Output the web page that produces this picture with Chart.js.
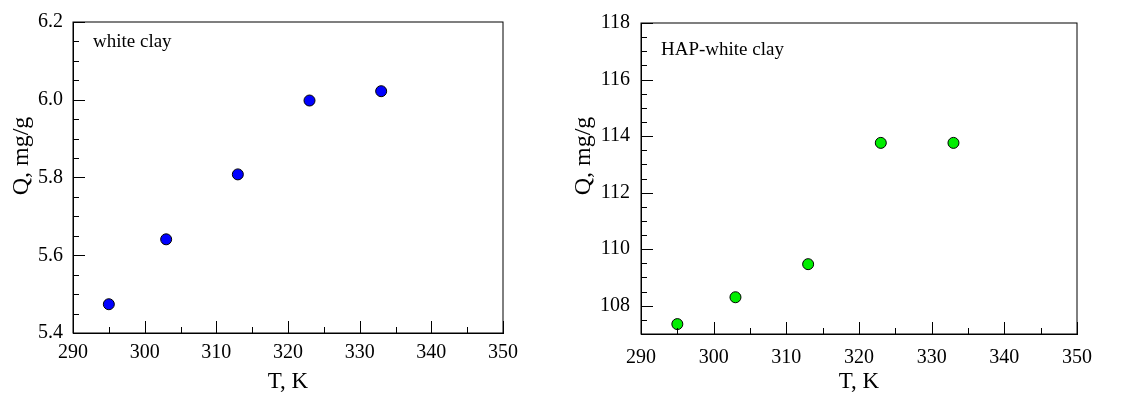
<!DOCTYPE html>
<html>
<head>
<meta charset="utf-8">
<script src="https://cdn.jsdelivr.net/npm/chart.js@4/dist/chart.umd.min.js"></script>
<style>
  body { margin: 0; background: #fff; }
  .box { position: absolute; top: 0; height: 393px; }
</style>
</head>
<body>
<div class="box" style="left:0;width:570px"><canvas id="leftChart"></canvas></div>
<div class="box" style="left:570px;width:574px"><canvas id="rightChart"></canvas></div>
<script>
// temperatures, K
var temps = [295, 303, 313, 323, 333];
// adsorbed amount Q, mg/g
var whiteClayQ = [5.474, 5.641, 5.808, 5.998, 6.022];
var hapWhiteClayQ = [107.35, 108.3, 109.47, 113.76, 113.76];

var serif = "'Liberation Serif', 'Times New Roman', serif";

// inward ticks, closed frame, panel label and y title like the original plot
var frameTicks = {
  id: "frameTicks",
  afterDraw: function (chart, args, opts) {
    var ctx = chart.ctx;
    var a = chart.chartArea;
    var xs = chart.scales.x;
    var ys = chart.scales.y;
    ctx.save();
    ctx.strokeStyle = "#000";
    ctx.lineWidth = 1;
    ctx.strokeRect(a.left, a.top, a.right - a.left, a.bottom - a.top);
    xs.ticks.forEach(function (t) {
      var px = Math.round(xs.getPixelForValue(t.value)) + 0.5;
      var len = Math.round(t.value) % 10 === 0 ? 12 : 6;
      ctx.beginPath();
      ctx.moveTo(px, a.bottom);
      ctx.lineTo(px, a.bottom - len);
      ctx.stroke();
    });
    ys.ticks.forEach(function (t) {
      var py = Math.round(ys.getPixelForValue(t.value)) + 0.5;
      var len = opts.isMajorY(t.value) ? 12 : 6;
      ctx.beginPath();
      ctx.moveTo(a.left, py);
      ctx.lineTo(a.left + len, py);
      ctx.stroke();
    });
    ctx.fillStyle = "#000";
    ctx.textBaseline = "middle";
    ctx.font = "19px " + serif;
    ctx.fillText(opts.label, a.left + opts.labelDx, a.top + opts.labelDy);
    // y axis title
    ctx.translate(opts.yTitleX, opts.yTitleY);
    ctx.rotate(-Math.PI / 2);
    ctx.textAlign = "center";
    ctx.font = "24px " + serif;
    ctx.fillText("Q, mg/g", 0, 0);
    ctx.restore();
  }
};

function makeChart(id, data, color, yMin, yMax, yStep, isMajorY, pad, yWidth, yLabels, xPadding, yPadding, label, labelDx, labelDy, yTitleX, yTitleY) {
  var ctx = document.getElementById(id).getContext("2d");
  return new Chart(ctx, {
    type: "scatter",
    data: {
      datasets: [
        {
          data: temps.map(function (t, i) { return { x: t, y: data[i] }; }),
          backgroundColor: color,
          borderColor: "#000",
          borderWidth: 1,
          pointRadius: 5.5,
          pointHoverRadius: 5.5,
        },
      ],
    },
    options: {
      responsive: true,
      maintainAspectRatio: false,
      animation: false,
      events: [],
      layout: { padding: { top: pad.top, right: pad.right, bottom: 0, left: 0 } },
      plugins: {
        legend: { display: false },
        tooltip: { enabled: false },
        frameTicks: {
          isMajorY: isMajorY,
          label: label,
          labelDx: labelDx,
          labelDy: labelDy,
          yTitleX: yTitleX,
          yTitleY: yTitleY,
        },
      },
      scales: {
        x: {
          type: "linear",
          min: 290,
          max: 350,
          grid: { display: false },
          border: { display: true, color: "#000", width: 1 },
          ticks: {
            stepSize: 5,
            autoSkip: false,
            maxRotation: 0,
            padding: xPadding,
            color: "#000",
            font: { family: serif, size: 20 },
            callback: function (v) {
              return Math.round(v) % 10 === 0 ? String(v) : "";
            },
          },
          title: {
            display: true,
            text: "T, K",
            color: "#000",
            font: { family: serif, size: 23, lineHeight: 1 },
            padding: { top: 0, bottom: 0 },
          },
          afterFit: function (s) { s.height = 393 - pad.top - pad.plotH; },
        },
        y: {
          type: "linear",
          min: yMin,
          max: yMax,
          grid: { display: false, drawTicks: false },
          border: { display: true, color: "#000", width: 1 },
          ticks: {
            stepSize: yStep,
            autoSkip: false,
            padding: yPadding,
            color: "#000",
            font: { family: serif, size: 20 },
            callback: function (v) {
              return isMajorY(v) ? yLabels(v) : "";
            },
          },
          afterFit: function (s) { s.width = yWidth; },
        },
      },
    },
    plugins: [frameTicks],
  });
}

var leftPad = { top: 21, right: 67, plotH: 312 };
var rightPad = { top: 15, right: 67, plotH: 319 };

makeChart("leftChart", whiteClayQ, "#0000ff", 5.4, 6.2, 0.05,
  function (v) { return Math.round(v * 100) % 20 === 0; },
  leftPad, 73,
  function (v) { return v.toFixed(1); },
  0, 10, "white clay", 20, 20, 22, 156);

makeChart("rightChart", hapWhiteClayQ, "#00ee00", 107, 118, 0.5,
  function (v) { return Math.abs(v - Math.round(v)) < 1e-6 && Math.round(v) % 2 === 0; },
  rightPad, 71,
  function (v) { return String(Math.round(v)); },
  4, 11, "HAP-white clay", 20, 27, 14, 156);
</script>
</body>
</html>
